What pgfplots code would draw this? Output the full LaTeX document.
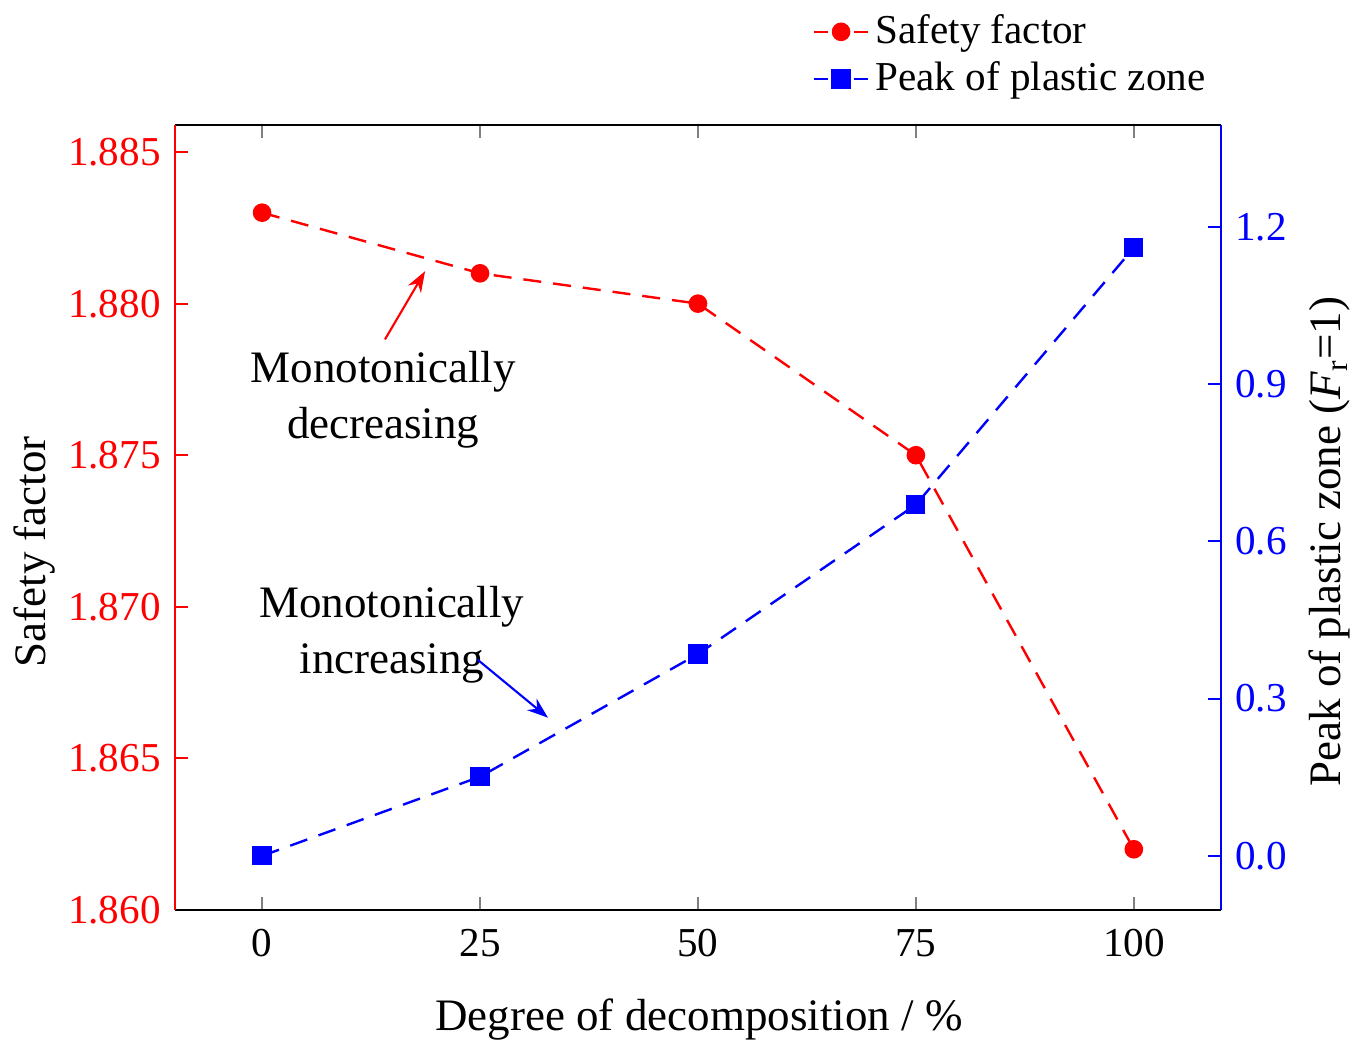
\documentclass[border=0pt]{standalone}
\usepackage{fontspec}
\setmainfont{Liberation Serif}
\usepackage{pgfplots}
\pgfplotsset{compat=1.18}
\usetikzlibrary{arrows.meta}

\pgfplotsset{
  twin/.style={
    scale only axis, width=348.7pt, height=261.7pt,
    xmin=-10, xmax=110,
    separate axis lines,
    tick align=inside, major tick length=4.3pt,
    axis line style={line width=0.7pt},
    every tick/.append style={line width=0.7pt},
    /pgf/number format/assume math mode=true,
    tick label style={font=\fontsize{13.7}{16}\selectfont},
    label style={font=\fontsize{15}{18}\selectfont},
  },
  dleg/.style={
    legend image code/.code={
      \draw[##1, solid] (0cm,0cm) -- (0.17cm,0cm);
      \draw[##1, solid] (0.47cm,0cm) -- (0.64cm,0cm);
      \path[##1] plot coordinates {(0.32cm,0cm)};
    },
  },
}

\begin{document}
\fontsize{13.7}{16}\selectfont
\begin{tikzpicture}
\useasboundingbox (-58.3pt,-46.3pt) rectangle (398.7pt,303.3pt);
\begin{axis}[
  twin,
  xtick={0,25,50,75,100},
  xtick pos=both,
  ytick pos=left,
  ymin=1.860, ymax=1.8859,
  ytick={1.860,1.865,1.870,1.875,1.880,1.885},
  xticklabel style={yshift=-1.7pt},
  yticklabel style={red, /pgf/number format/.cd, fixed, fixed zerofill, precision=3},
  x axis line style={black},
  y axis line style={red}, ytick style={red},
  xlabel={Degree of decomposition / \%},
  ylabel={Safety factor},
  xlabel style={at={(axis description cs:0.501,-0.14)}, anchor=center},
  ylabel style={at={(axis description cs:-0.134,0.456)}, anchor=center},
]
\addplot[red, line width=0.8pt, dash pattern=on 6pt off 4pt, mark=*, mark size=2.7pt, mark options={solid}]
  coordinates {(0,1.883) (25,1.881) (50,1.880) (75,1.875) (100,1.862)};
\node[align=center, font=\fontsize{15}{18.7}\selectfont] at (axis cs:13.9,1.87684) {Monotonically\\decreasing};
\draw[red, line width=0.7pt, -{Stealth[length=7pt, width=5pt]}] (axis cs:14.1,1.87882) -- (axis cs:18.7,1.88107);
\node[align=center, font=\fontsize{15}{18.7}\selectfont] at (axis cs:14.9,1.86908) {Monotonically\\increasing};
\draw[blue, line width=0.7pt, -{Stealth[length=7pt, width=5pt]}] (axis cs:24.7,1.86826) -- (axis cs:32.8,1.86634);
\end{axis}
\begin{axis}[
  twin,
  axis x line=none,
  axis y line*=right,
  ymin=-0.103, ymax=1.3946,
  ytick={0,0.3,0.6,0.9,1.2},
  yticklabel style={blue, /pgf/number format/.cd, fixed, fixed zerofill, precision=1},
  y axis line style={blue}, ytick style={blue},
  ylabel={Peak of plastic zone (\textit{F}\textsubscript{r}=1)},
  ylabel style={at={(axis description cs:1.104,0.469)}, anchor=center},
  legend style={at={(axis description cs:1.0,1.02)}, anchor=south east, draw=none, fill=none,
    font=\fontsize{13.7}{16}\selectfont, cells={anchor=west}, row sep=0pt},
]
\addlegendimage{red, line width=0.8pt, mark=*, mark size=2.7pt, mark options={solid}, dleg}
\addlegendentry{Safety factor}
\addplot[blue, line width=0.8pt, dash pattern=on 6pt off 4pt, mark=square*, mark size=2.8pt, mark options={solid}, dleg]
  coordinates {(0,0.0) (25,0.151) (50,0.385) (75,0.670) (100,1.160)};
\addlegendentry{Peak of plastic zone}
\end{axis}
\end{tikzpicture}
\end{document}
